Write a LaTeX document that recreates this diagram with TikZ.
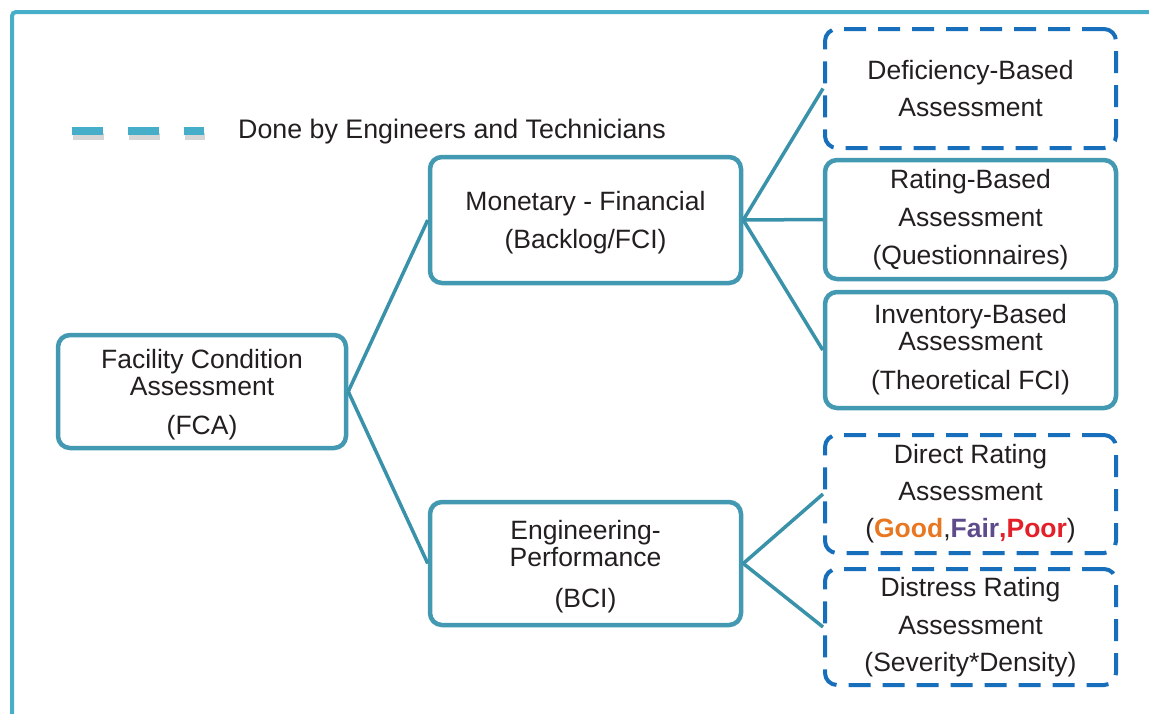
\documentclass[tikz,border=0pt]{standalone}
\usepackage{fontspec}
\setmainfont{Liberation Sans}
\definecolor{framec}{HTML}{46AEC8}
\definecolor{boxc}{HTML}{4399B2}
\definecolor{linkc}{HTML}{3A92AA}
\definecolor{dashc}{HTML}{176EBA}
\definecolor{txt}{HTML}{231F20}
\definecolor{goodc}{HTML}{E87722}
\definecolor{fairc}{HTML}{5E4B8B}
\definecolor{poorc}{HTML}{E3202A}
\newcommand{\topgap}{\rule{0pt}{25pt}}
\begin{document}
\begin{tikzpicture}[x=1pt,y=-1pt,
  box/.style={draw=boxc, line width=4.5pt, rounded corners=12pt, align=center,
    text=txt, font=\fontsize{26.5}{27}\selectfont, inner sep=0pt, fill=white},
  dbox/.style={box, draw=dashc, line width=4pt, dash pattern=on 22pt off 12pt},
  link/.style={draw=linkc, line width=3.5pt},
  frame/.style={draw=framec, line width=4pt, rounded corners=4pt},
  legend/.style={draw=framec, line width=8pt, dash pattern=on 31pt off 25pt},
  legendshadow/.style={draw=black!45, line width=7pt, dash pattern=on 31pt off 25pt, opacity=0.35}
]
\useasboundingbox (0,0) rectangle (1149,713);
\fill[white] (0,0) rectangle (1149,713);
\draw[frame] (12,720) -- (12,12) -- (1160,12);

% legend
\coordinate (l1) at (72,131);
\coordinate (l2) at (204,131);
\coordinate (s1) at (73,136);
\coordinate (s2) at (205,136);
\draw[legendshadow] (s1) -- (s2);
\draw[legend] (l1) -- (l2);
\node[anchor=base west, text=txt, font=\fontsize{26.8}{27}\selectfont, inner sep=0pt] (legtext) at (238,138) {Done by Engineers and Technicians};

% nodes
\node[box, minimum width=288pt, minimum height=113pt] (fca) at (202,391.5)
  {\topgap Facility Condition\\Assessment\\[12pt](FCA)};
\node[box, minimum width=311pt, minimum height=126pt] (mon) at (585.5,220)
  {\topgap Monetary - Financial\\[11pt](Backlog/FCI)};
\node[box, minimum width=311pt, minimum height=123pt] (eng) at (585.5,563.5)
  {\topgap Engineering-\\Performance\\[14pt](BCI)};

\node[dbox, minimum width=291pt, minimum height=119pt] (def) at (970.5,88.5)
  {\strut Deficiency-Based\\[10pt]Assessment};
\node[box, minimum width=291pt, minimum height=119pt] (rat) at (970.5,219.5)
  {\strut Rating-Based\\[11pt]Assessment\\[11pt](Questionnaires)};
\node[box, minimum width=291pt, minimum height=116pt] (inv) at (970.5,350)
  {\strut Inventory-Based\\Assessment\\[12pt](Theoretical FCI)};
\node[dbox, minimum width=291pt, minimum height=118pt] (dir) at (970.5,494)
  {\strut Direct Rating\\[10pt]Assessment\\[10pt](\textbf{\textcolor{goodc}{Good}},\textbf{\textcolor{fairc}{Fair}}\textbf{\textcolor{poorc}{,Poor}})};
\node[dbox, minimum width=291pt, minimum height=116pt] (dis) at (970.5,627)
  {\strut Distress Rating\\[11pt]Assessment\\[10pt](Severity*Density)};

% connectors
\draw[link] (fca.east) -- (mon.west);
\draw[link] (fca.east) -- (eng.west);
\draw[link] (mon.east) -- (def.west);
\draw[link] (mon.east) -- (rat.west);
\draw[link] (mon.east) -- (inv.west);
\draw[link] (eng.east) -- (dir.west);
\draw[link] (eng.east) -- (dis.west);
\end{tikzpicture}
\end{document}
